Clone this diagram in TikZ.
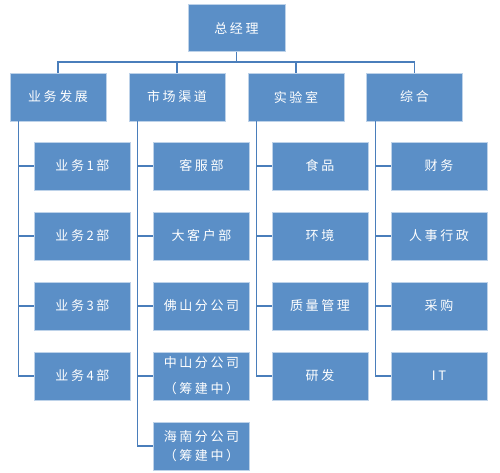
\documentclass[tikz,border=0pt]{standalone}
\usepackage{fontspec}
\newfontfamily\cjk[LetterSpace=20]{Noto Sans CJK SC}
\definecolor{boxblue}{HTML}{5B8FC7}
\definecolor{lineblue}{HTML}{4A7EBB}
\begin{document}
\begin{tikzpicture}[x=1pt,y=-1pt,
  unit/.style={draw=boxblue!40!white,line width=0.6pt,fill=boxblue,text=white,
    minimum width=96pt,minimum height=48pt,inner sep=1pt,align=center,
    font=\cjk\fontsize{13}{19}\selectfont},
  link/.style={draw=lineblue,line width=1.1pt}]
\useasboundingbox (0,0) rectangle (500,473);
\node[unit,minimum width=97pt,minimum height=47pt] (gm) at (236.5,28) {总经理};
\coordinate (bus) at (236.5,62);
\node[unit] (yw) at (58,97) {业务发展};
\node[unit] (sc) at (177,97) {市场渠道};
\node[unit] (sy) at (296,97) {实验室};
\node[unit] (zh) at (414.5,97) {综合};
\node[unit] (yw1) at (82.5,166) {业务1部};
\node[unit] (yw2) at (82.5,236) {业务2部};
\node[unit] (yw3) at (82.5,306) {业务3部};
\node[unit] (yw4) at (82.5,376) {业务4部};
\node[unit] (kf) at (201.5,166) {客服部};
\node[unit] (dkh) at (201.5,236) {大客户部};
\node[unit] (fs) at (201.5,306) {佛山分公司};
\node[unit] (zs) at (201.5,376) {中山分公司\\[7pt]（筹建中）};
\node[unit] (hn) at (201.5,446) {海南分公司\\（筹建中）};
\node[unit] (sp) at (320,166) {食品};
\node[unit] (hj) at (320,236) {环境};
\node[unit] (zl) at (320,306) {质量管理};
\node[unit] (yf) at (320,376) {研发};
\node[unit] (cw) at (439,166) {财务};
\node[unit] (rs) at (439,236) {人事行政};
\node[unit] (cg) at (439,306) {采购};
\node[unit] (it) at (439,376) {IT};
\draw[link] (gm.south) -- (bus);
\foreach \p in {yw,sc,sy,zh}
  \draw[link] (bus) -| (\p.north);
\foreach \c in {yw1,yw2,yw3,yw4}
  \draw[link] ([xshift=9pt]yw.south west) |- (\c.west);
\foreach \c in {kf,dkh,fs,zs,hn}
  \draw[link] ([xshift=9pt]sc.south west) |- (\c.west);
\foreach \c in {sp,hj,zl,yf}
  \draw[link] ([xshift=9pt]sy.south west) |- (\c.west);
\foreach \c in {cw,rs,cg,it}
  \draw[link] ([xshift=9pt]zh.south west) |- (\c.west);
\end{tikzpicture}
\end{document}
